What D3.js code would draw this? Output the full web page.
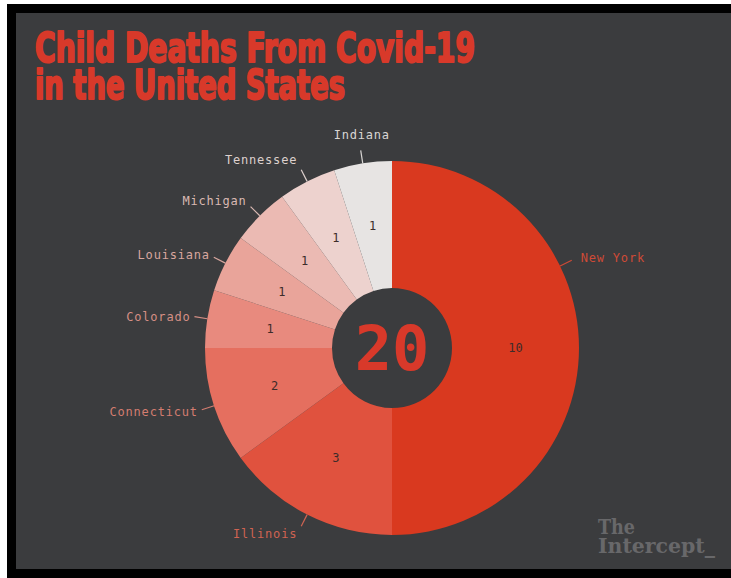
<!DOCTYPE html>
<html>
<head>
<meta charset="utf-8">
<script src="https://cdn.jsdelivr.net/npm/d3@7"></script>
<style>
  html, body { margin: 0; padding: 0; background: #ffffff; }
  svg { display: block; }
</style>
</head>
<body>
<svg id="chart" width="731" height="578"></svg>
<script>
// Child deaths from Covid-19 by state, clockwise from 12 o'clock
const states = ["New York", "Illinois", "Connecticut", "Colorado", "Louisiana", "Michigan", "Tennessee", "Indiana"];
const deaths = [10, 3, 2, 1, 1, 1, 1, 1];
const titleLines = ["Child Deaths From Covid-19", "in the United States"];
const brandLines = ["The", "Intercept_"];

const W = 731, H = 578;
const bg = "#3b3c3e";
const red = "#d8392a";
const sliceColors = ["#d9391f", "#e0523e", "#e56f5f", "#e88a7e", "#e9a49a", "#ebbab3", "#edd2ce", "#e7e4e3"];
const labelColors = ["#cf4a36", "#cf6352", "#d47d70", "#d58f85", "#d8a69e", "#dab9b3", "#ddd0cd", "#d9d6d4"];

const svg = d3.select("#chart");

// frame: white edge, black border, dark panel
svg.append("rect").attr("width", W).attr("height", H).attr("fill", "#ffffff");
svg.append("rect").attr("x", 7).attr("y", 4).attr("width", W - 7).attr("height", H - 4).attr("fill", "#000000");
svg.append("rect").attr("x", 16).attr("y", 13).attr("width", W - 16).attr("height", 556).attr("fill", bg);

// title: one text block, two lines squeezed to width
const titleWidths = [440, 310];
const title = svg.append("text")
  .attr("font-family", "'DejaVu Sans', sans-serif")
  .style("font-stretch", "condensed")
  .attr("font-weight", "bold")
  .attr("font-size", 40)
  .attr("fill", red)
  .attr("stroke", red)
  .attr("stroke-width", 2.1)
  .attr("stroke-linejoin", "round");
titleLines.forEach((t, i) => {
  title.append("tspan")
    .attr("x", 35)
    .attr("y", 62 + i * 37)
    .attr("textLength", titleWidths[i])
    .attr("lengthAdjust", "spacingAndGlyphs")
    .text(t);
});

// donut
const cx = 392, cy = 348;
const rIn = 60, rOut = 187;
const data = states.map((s, i) => ({ state: s, value: deaths[i] }));
const pie = d3.pie().value(d => d.value).sort(null).startAngle(0).endAngle(2 * Math.PI);
const arcs = pie(data);
const arc = d3.arc().innerRadius(rIn).outerRadius(rOut);
const color = d3.scaleOrdinal().domain(states).range(sliceColors);
const lblColor = d3.scaleOrdinal().domain(states).range(labelColors);

const g = svg.append("g").attr("transform", `translate(${cx},${cy})`);

g.selectAll("path.slice")
  .data(arcs)
  .join("path")
  .attr("class", "slice")
  .attr("d", arc)
  .attr("fill", d => color(d.data.state));

// value labels inside each slice
g.selectAll("text.value")
  .data(arcs)
  .join("text")
  .attr("class", "value")
  .attr("transform", d => `translate(${arc.centroid(d)})`)
  .attr("text-anchor", "middle")
  .attr("dy", "0.35em")
  .attr("font-family", "'DejaVu Sans Mono', monospace")
  .attr("font-size", 12)
  .attr("fill", "#3d2c2a")
  .text(d => d.value);

// total in the centre
g.append("text")
  .attr("text-anchor", "middle")
  .attr("dy", "0.36em")
  .attr("font-family", "'DejaVu Sans Mono', monospace")
  .attr("font-weight", "bold")
  .attr("font-size", 62)
  .attr("fill", red)
  .text(d3.sum(deaths));

// outer labels with short leader lines
const labelAngleOverride = { "New York": 64 * Math.PI / 180 };
const angleOf = d => labelAngleOverride[d.data.state] ?? (d.startAngle + d.endAngle) / 2;
const polar = (a, r) => [Math.sin(a) * r, -Math.cos(a) * r];
const rLine = 200;

const labels = g.selectAll("g.label").data(arcs).join("g").attr("class", "label");

labels.append("line")
  .attr("x1", d => polar(angleOf(d), rOut)[0])
  .attr("y1", d => polar(angleOf(d), rOut)[1])
  .attr("x2", d => polar(angleOf(d), rLine)[0])
  .attr("y2", d => polar(angleOf(d), rLine)[1])
  .attr("stroke", d => lblColor(d.data.state))
  .attr("stroke-width", 1.2);

labels.append("text")
  .attr("x", d => {
    const a = angleOf(d), p = polar(a, rLine);
    const s = Math.sin(a);
    if (Math.abs(s) < 0.25) return p[0] - 27;
    return s < 0 ? p[0] - 4 : p[0] + 9;
  })
  .attr("y", d => {
    const a = angleOf(d), p = polar(a, rLine);
    if (Math.abs(Math.sin(a)) < 0.25) return p[1] - 16;
    const c = Math.cos(a);
    return p[1] - (c > 0 ? 12 * c * c : 8 * c);
  })
  .attr("dy", "0.35em")
  .attr("text-anchor", d => {
    const a = angleOf(d);
    if (Math.abs(Math.sin(a)) < 0.25) return "start";
    return Math.sin(a) < 0 ? "end" : "start";
  })
  .attr("font-family", "'DejaVu Sans Mono', monospace")
  .attr("font-size", 12)
  .attr("letter-spacing", 0.8)
  .attr("fill", d => lblColor(d.data.state))
  .text(d => d.data.state);

// publisher mark
const brandWidths = [37, 117];
const mark = svg.append("text").attr("fill", "#68686a")
  .attr("font-family", "'DejaVu Serif', 'Liberation Serif', serif")
  .attr("font-weight", "bold")
  .attr("font-size", 20);
brandLines.forEach((t, i) => {
  mark.append("tspan")
    .attr("x", 598)
    .attr("y", 534 + i * 19)
    .attr("textLength", brandWidths[i])
    .attr("lengthAdjust", "spacingAndGlyphs")
    .text(t);
});
</script>
</body>
</html>
